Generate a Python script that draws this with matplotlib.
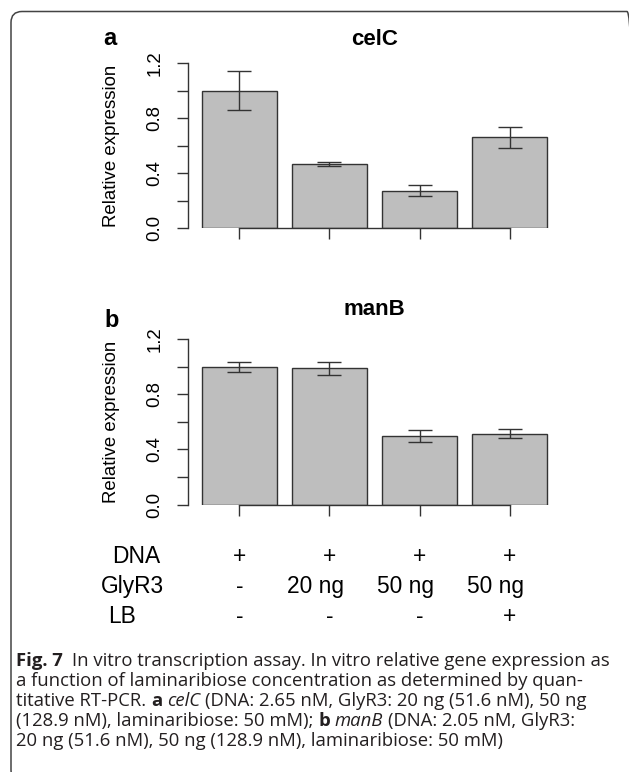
import numpy as np
import matplotlib
matplotlib.use("Agg")
import matplotlib.pyplot as plt
from matplotlib.patches import FancyBboxPatch
from matplotlib.transforms import IdentityTransform

# values
genes = ["celC", "manB"]
panel_tags = ["a", "b"]
celc_mean = [1.00, 0.463, 0.271, 0.66]
celc_err = [0.14, 0.015, 0.039, 0.077]
manb_mean = [1.00, 0.99, 0.497, 0.515]
manb_err = [0.037, 0.048, 0.043, 0.034]

y_ticks = [0.0, 0.2, 0.4, 0.6, 0.8, 1.0, 1.2]
y_ticklabels = ["0.0", "", "0.4", "", "0.8", "", "1.2"]

row_names = ["DNA", "GlyR3", "LB"]
dna_row = ["+", "+", "+", "+"]
glyr3_row = ["-", "20 ng", "50 ng", "50 ng"]
lb_row = ["-", "-", "-", "+"]

caption_lines = [
    [("Fig. 7", "bold", 2), ("In vitro transcription assay. In vitro relative gene expression as", "normal", 0)],
    [("a function of laminaribiose concentration as determined by quan-", "normal", 0)],
    [("titative RT-PCR.", "normal", 1), ("a", "bold", 1), ("celC", "italic", 1),
     ("(DNA: 2.65 nM, GlyR3: 20 ng (51.6 nM), 50 ng", "normal", 0)],
    [("(128.9 nM), laminaribiose: 50 mM);", "normal", 1), ("b", "bold", 1), ("manB", "italic", 1),
     ("(DNA: 2.05 nM, GlyR3:", "normal", 0)],
    [("20 ng (51.6 nM), 50 ng (128.9 nM), laminaribiose: 50 mM)", "normal", 0)],
]

W, H = 629, 772
plt.rcParams["font.family"] = ["Liberation Sans", "DejaVu Sans"]
fig = plt.figure(figsize=(W / 100, H / 100), dpi=100)


def fx(x):
    return x / W


def fy(y):
    return 1 - y / H


def px_axes(l, t, r, b):
    return fig.add_axes([l / W, 1 - b / H, (r - l) / W, (b - t) / H])


line_col = "#333333"
xpos = np.arange(4) * 1.2 + 0.7

panels = [
    (celc_mean, celc_err, (63, 228), 45, 45, 110),
    (manb_mean, manb_err, (339.3, 504.5), 315, 327, 112),
]
axes = []
for k, (mean, err, (top, bot), title_y, tag_y, tag_x) in enumerate(panels):
    ax = px_axes(188, top, 561, bot)
    ax.bar(xpos, mean, width=1.0, color="#bebebe", edgecolor=line_col, linewidth=1.0, zorder=2)
    ax.errorbar(xpos, mean, yerr=err, fmt="none", ecolor=line_col, elinewidth=1.0,
                capsize=8.3, capthick=1.0, zorder=3, clip_on=False)
    ax.set_xlim(0.016, 4.984)
    ax.set_ylim(0, 1.2)
    for s in ["top", "right"]:
        ax.spines[s].set_visible(False)
    for s in ["left", "bottom"]:
        ax.spines[s].set_color(line_col)
        ax.spines[s].set_linewidth(1.0)
    ax.spines["left"].set_bounds(0, 1.2)
    ax.spines["bottom"].set_bounds(xpos[0], xpos[-1])
    ax.set_xticks(xpos)
    ax.set_xticklabels([])
    ax.set_yticks(y_ticks)
    ax.set_yticklabels(y_ticklabels, rotation=90, va="center", fontsize=13.4)
    ax.tick_params(direction="out", length=7.9, width=1.0, color=line_col, pad=10)
    ax.set_ylabel("Relative expression", fontsize=13.4, va="center")
    ax.yaxis.set_label_coords((111 - 188) / 373, 0.5)
    ax.set_title(genes[k], fontsize=16, fontweight="bold", pad=(top - title_y) * 0.72)
    ax.patch.set_visible(False)
    fig.text(fx(tag_x), fy(tag_y), panel_tags[k], ha="center", va="baseline",
             fontsize=17, fontweight="bold")
    axes.append(ax)

# condition table under panel b
ax_b = axes[1]
row_x = [136, 132, 122]
row_y = [562.7, 592.7, 623]
for r, (name, cells) in enumerate(zip(row_names, [dna_row, glyr3_row, lb_row])):
    fig.text(fx(row_x[r]), fy(row_y[r]), name, ha="center", va="baseline", fontsize=16.4)
    for c, cell in enumerate(cells):
        cx = ax_b.transData.transform((xpos[c], 0))[0]
        if len(cell) > 1:
            cx -= 14
        fig.text(fx(cx), fy(row_y[r]), cell, ha="center", va="baseline", fontsize=16.4)

# rounded frame
frame = FancyBboxPatch((11, H - 781), 627, 781 - 11.5, boxstyle="round,pad=0,rounding_size=11",
                       transform=IdentityTransform(), fill=False, edgecolor="#444444", linewidth=1.1)
fig.patches.append(frame)

# caption with mixed bold / italic runs
renderer = fig.canvas.get_renderer()
cap_font = ["Open Sans", "DejaVu Sans"]
cap_col = "#231f20"


def draw_line(runs, x0, y, size, draw=True):
    t1 = fig.text(0, 0, "a a", fontsize=size, family=cap_font)
    t2 = fig.text(0, 0, "aa", fontsize=size, family=cap_font)
    space_w = t1.get_window_extent(renderer).width - t2.get_window_extent(renderer).width
    t1.remove()
    t2.remove()
    x = x0
    for txt, style, gap in runs:
        kw = dict(fontsize=size, family=cap_font, color=cap_col, va="baseline", ha="left")
        if style == "bold":
            kw["fontweight"] = "bold"
        elif style == "italic":
            kw["fontstyle"] = "italic"
        t = fig.text(fx(x), fy(y), txt, **kw)
        x += t.get_window_extent(renderer).width + gap * space_w
        if not draw:
            t.remove()
    return x - x0


# fit the first caption line to the width it has in the figure
base_size = 12
w0 = draw_line(caption_lines[0], 16, 0, base_size, draw=False)
cap_size = base_size * 590 / w0
base_y = [665.5, 685.7, 706, 726.2, 746.5]
for li, runs in enumerate(caption_lines):
    draw_line(runs, 16, base_y[li], cap_size)

fig.savefig("out.png", dpi=100)
